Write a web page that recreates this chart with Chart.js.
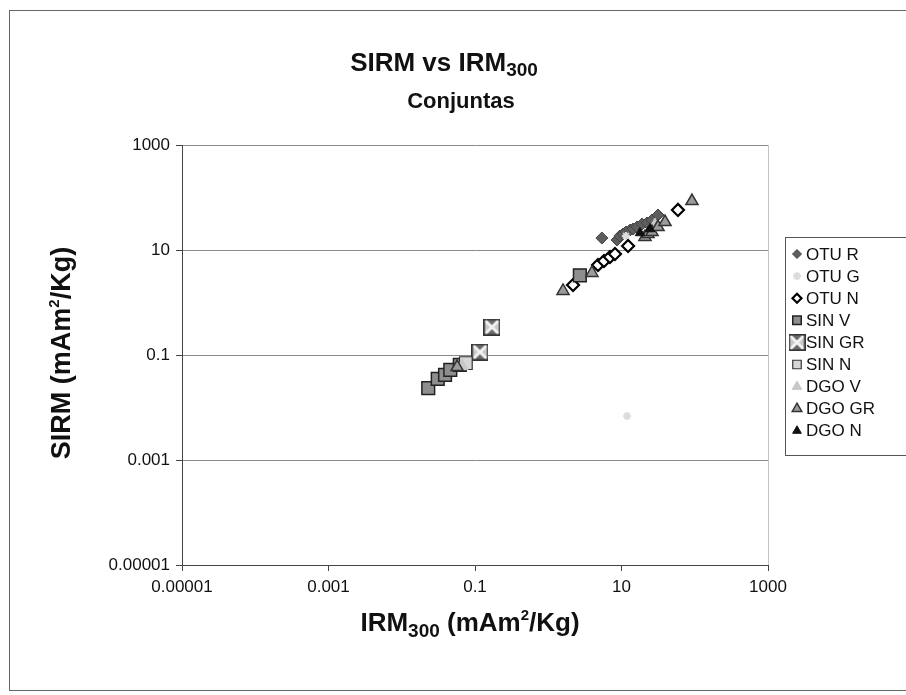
<!DOCTYPE html>
<html>
<head>
<meta charset="utf-8">
<script src="https://cdn.jsdelivr.net/npm/chart.js@4.4.1/dist/chart.umd.min.js"></script>
<style>
html, body { margin: 0; padding: 0; background: #fff; }
</style>
</head>
<body>
<canvas id="chart" width="906" height="695"></canvas>
<script>
'use strict';

// axis ticks (every two decades)
const tickValues = [0.00001, 0.001, 0.1, 10, 1000];
const tickLabels = ['0.00001', '0.001', '0.1', '10', '1000'];

const seriesNames = ['OTU R', 'OTU G', 'OTU N', 'SIN V', 'SIN GR', 'SIN N', 'DGO V', 'DGO GR', 'DGO N'];

// IRM300 (x) and SIRM (y), mAm2/Kg
const otuRIrm = [5.4, 8.7, 9.5, 10.5, 11.5, 13.1, 14.4, 16.3, 19.1, 22.3, 26.1, 31.5];
const otuRSirm = [16.9, 15.5, 18.5, 20.2, 22.0, 24.0, 25.1, 27.4, 31.3, 32.7, 37.3, 46.4];
const otuGIrm = [11.5, 11.9];
const otuGSirm = [18.5, 0.0069];
const otuNIrm = [2.18, 4.78, 5.77, 6.96, 8.15, 12.3, 59];
const otuNSirm = [2.15, 5.18, 6.17, 7.36, 8.39, 11.9, 58];
const sinVIrm = [0.023, 0.031, 0.039, 0.046, 0.062, 2.7];
const sinVSirm = [0.0235, 0.035, 0.042, 0.052, 0.065, 3.3];
const sinGRIrm = [0.117, 0.17];
const sinGRSirm = [0.114, 0.34];
const sinNIrm = [0.075];
const sinNSirm = [0.070];
const dgoVIrm = [0.0665, 28.6];
const dgoVSirm = [0.0616, 29.9];
const dgoGRIrm = [0.057, 1.59, 3.95, 20.9, 23.0, 26.1, 31.5, 39.3, 91.6];
const dgoGRSirm = [0.059, 1.66, 3.65, 17.7, 20.2, 22.0, 27.4, 34.1, 85.7];
const dgoNIrm = [17.9, 24.5];
const dgoNSirm = [21.1, 25.1];

const FONT = "'Liberation Sans', Arial, sans-serif";

function pairs(xs, ys) {
    let out = [];
    for (let i = 0; i < xs.length; i++) {
        out.push({ x: xs[i], y: ys[i] });
    }
    return out;
}

// square split by an X, for SIN GR
function crossBox(size) {
    let c = document.createElement('canvas');
    c.width = size;
    c.height = size;
    let g = c.getContext('2d');
    let s = size;
    g.fillStyle = '#6a6a6a';
    g.fillRect(0, 0, s, s);
    g.fillStyle = '#c9c9c9';
    g.beginPath(); g.moveTo(0, 0); g.lineTo(s / 2, s / 2); g.lineTo(0, s); g.fill();
    g.beginPath(); g.moveTo(s, 0); g.lineTo(s / 2, s / 2); g.lineTo(s, s); g.fill();
    g.strokeStyle = '#f4f4f4';
    g.lineWidth = s / 6;
    g.beginPath(); g.moveTo(2, 2); g.lineTo(s - 2, s - 2); g.moveTo(s - 2, 2); g.lineTo(2, s - 2); g.stroke();
    g.strokeStyle = '#333';
    g.lineWidth = 1.5;
    g.strokeRect(0.75, 0.75, s - 1.5, s - 1.5);
    return c;
}

const styles = [
    { pointStyle: 'rectRot', radius: 6, bg: '#5e5e5e', border: '#444444', bw: 1, lr: 4.5 },
    { pointStyle: 'star', radius: 4, bg: '#dcdcdc', border: '#dcdcdc', bw: 2, lr: 4 },
    { pointStyle: 'rectRot', radius: 6, bg: '#ffffff', border: '#000000', bw: 2.2, lr: 4.5 },
    { pointStyle: 'rect', radius: 9, bg: '#8e8e8e', border: '#222222', bw: 1.5, lr: 6 },
    { pointStyle: crossBox(17), radius: 8, bg: '#777', border: '#333', bw: 1, lr: 7 },
    { pointStyle: 'rect', radius: 9, bg: '#d6d6d6', border: '#333333', bw: 1.2, lr: 6 },
    { pointStyle: 'triangle', radius: 7, bg: '#c8c8c8', border: '#c8c8c8', bw: 1, lr: 5.5 },
    { pointStyle: 'triangle', radius: 7, bg: '#9c9c9c', border: '#333333', bw: 1.5, lr: 5.5 },
    { pointStyle: 'triangle', radius: 5.5, bg: '#111111', border: '#111111', bw: 1, lr: 5 }
];

const seriesData = [
    pairs(otuRIrm, otuRSirm),
    pairs(otuGIrm, otuGSirm),
    pairs(otuNIrm, otuNSirm),
    pairs(sinVIrm, sinVSirm),
    pairs(sinGRIrm, sinGRSirm),
    pairs(sinNIrm, sinNSirm),
    pairs(dgoVIrm, dgoVSirm),
    pairs(dgoGRIrm, dgoGRSirm),
    pairs(dgoNIrm, dgoNSirm)
];

let datasets = [];
for (let i = 0; i < seriesNames.length; i++) {
    let st = styles[i];
    datasets.push({
        label: seriesNames[i],
        data: seriesData[i],
        pointStyle: st.pointStyle,
        pointRadius: st.radius,
        pointBackgroundColor: st.bg,
        pointBorderColor: st.border,
        pointBorderWidth: st.bw,
        showLine: false,
        order: seriesNames.length - i
    });
}

// text with sub/superscripts
function drawParts(ctx, parts, cx, baseY) {
    let total = 0;
    for (const p of parts) {
        ctx.font = 'bold ' + p.size + 'px ' + FONT;
        p.w = ctx.measureText(p.t).width;
        total += p.w;
    }
    let x = cx - total / 2;
    ctx.textAlign = 'left';
    ctx.textBaseline = 'alphabetic';
    for (const p of parts) {
        ctx.font = 'bold ' + p.size + 'px ' + FONT;
        ctx.fillText(p.t, x, baseY + (p.dy || 0));
        x += p.w;
    }
}

const decorPlugin = {
    id: 'decor',
    beforeDraw(chart) {
        let ctx = chart.ctx;
        ctx.save();
        ctx.fillStyle = '#fff';
        ctx.fillRect(0, 0, chart.width, chart.height);
        ctx.strokeStyle = '#666';
        ctx.lineWidth = 1;
        ctx.strokeRect(9.5, 10.5, 910, 680);
        ctx.restore();
    },
    afterDraw(chart) {
        let ctx = chart.ctx;
        ctx.save();
        ctx.fillStyle = '#111';
        drawParts(ctx, [{ t: 'SIRM vs IRM', size: 26 }, { t: '300', size: 19, dy: 5 }], 444, 71);
        drawParts(ctx, [{ t: 'Conjuntas', size: 22 }], 461, 108);
        drawParts(ctx, [
            { t: 'IRM', size: 26 }, { t: '300', size: 19, dy: 6 },
            { t: ' (mAm', size: 26 }, { t: '2', size: 15, dy: -11 }, { t: '/Kg)', size: 26 }
        ], 470, 631);
        ctx.save();
        ctx.translate(70, 353);
        ctx.rotate(-Math.PI / 2);
        drawParts(ctx, [
            { t: 'SIRM (mAm', size: 27 }, { t: '2', size: 15, dy: -11 }, { t: '/Kg)', size: 27 }
        ], 0, 0);
        ctx.restore();

        // legend
        let lx = 785.5, ly = 237.5, lw = 130, lh = 218;
        ctx.fillStyle = '#fff';
        ctx.fillRect(lx, ly, lw, lh);
        ctx.strokeStyle = '#555';
        ctx.lineWidth = 1;
        ctx.strokeRect(lx, ly, lw, lh);
        ctx.font = '17px ' + FONT;
        ctx.textAlign = 'left';
        ctx.textBaseline = 'middle';
        for (let i = 0; i < seriesNames.length; i++) {
            let st = styles[i];
            let y = 254 + i * 22.1;
            ctx.fillStyle = st.bg;
            ctx.strokeStyle = st.border;
            ctx.lineWidth = st.bw;
            Chart.helpers.drawPoint(ctx, { pointStyle: st.pointStyle, radius: st.lr, rotation: 0, borderWidth: st.bw }, 797, y);
            ctx.fillStyle = '#111';
            ctx.fillText(seriesNames[i], 806, y + 1);
        }
        ctx.restore();
    }
};

const tickFont = { family: FONT, size: 17 };

const config = {
    type: 'scatter',
    data: { datasets: datasets },
    options: {
        responsive: false,
        animation: false,
        devicePixelRatio: 1,
        layout: { padding: { top: 145, right: 138, bottom: 0, left: 0 } },
        plugins: {
            legend: { display: false },
            title: { display: false },
            tooltip: { enabled: false }
        },
        scales: {
            x: {
                type: 'logarithmic',
                min: 0.00001,
                max: 1000,
                afterBuildTicks: (s) => { s.ticks = tickValues.map(v => ({ value: v })); },
                afterFit: (s) => { s.height = 130; },
                ticks: {
                    callback: (v, i) => tickLabels[i],
                    font: tickFont,
                    color: '#111',
                    padding: 6,
                    maxRotation: 0,
                    autoSkip: false
                },
                grid: {
                    color: (c) => c.index === tickValues.length - 1 ? '#c4c4c4' : 'rgba(0,0,0,0)',
                    tickColor: '#444',
                    tickLength: 6
                },
                border: { color: '#444', width: 1 }
            },
            y: {
                type: 'logarithmic',
                min: 0.00001,
                max: 1000,
                afterBuildTicks: (s) => { s.ticks = tickValues.map(v => ({ value: v })); },
                afterFit: (s) => { s.width = 182; },
                ticks: {
                    callback: (v, i) => tickLabels[i],
                    font: tickFont,
                    color: '#111',
                    padding: 6,
                    autoSkip: false
                },
                grid: {
                    color: '#8a8a8a',
                    tickColor: '#444',
                    tickLength: 6
                },
                border: { color: '#444', width: 1 }
            }
        }
    },
    plugins: [decorPlugin]
};

const myGraph = new Chart(document.getElementById('chart'), config);
</script>
</body>
</html>
